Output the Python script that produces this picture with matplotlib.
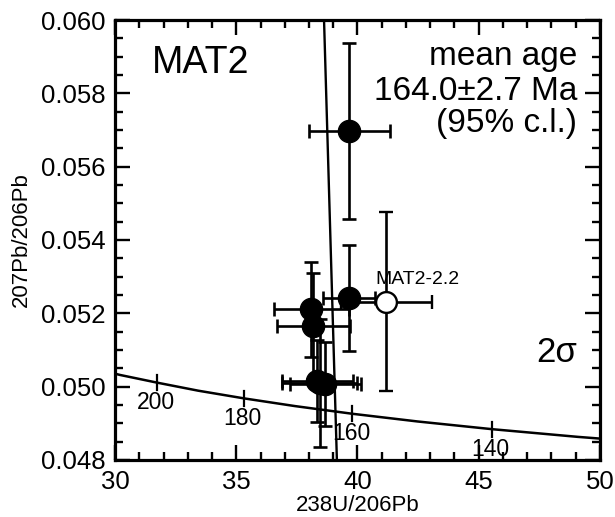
"""
MAT2 - Tera-Wasserburg concordia plot with U-Pb spot analyses.
"""

import matplotlib.pyplot as plt
from matplotlib.ticker import MultipleLocator

plt.rcParams["font.family"] = ["Liberation Sans", "DejaVu Sans"]

# concordia curve points (238U/206Pb, 207Pb/206Pb)
conc_x = [29.91, 30.20, 31.73, 33.43, 35.32, 37.42, 39.79, 42.48, 45.55, 49.09, 50.26]
conc_y = [0.05037, 0.05032, 0.05011, 0.04989, 0.04968, 0.04947, 0.04926, 0.04905, 0.04884, 0.04863, 0.04857]

# age marks on the concordia (Ma)
age_labels = ["200", "180", "160", "140"]
age_x = [31.73, 35.32, 39.79, 45.55]
age_y = [0.05011, 0.04968, 0.04926, 0.04884]

# filled spots: x, y and 2 sigma errors
spot_x = [39.65, 39.65, 38.10, 38.18, 38.35, 38.45, 38.68]
spot_y = [0.05697, 0.05241, 0.05211, 0.05166, 0.05016, 0.05010, 0.05008]
spot_xerr = [1.67, 1.07, 1.55, 1.50, 1.45, 1.55, 1.48]
spot_yerr = [0.00240, 0.00145, 0.00130, 0.00145, 0.00112, 0.00175, 0.00115]

# excluded spot (open circle)
open_x = [41.18]
open_y = [0.05232]
open_xerr = [1.88]
open_yerr = [0.00245]
open_name = "MAT2-2.2"

# mean-age line
line_x = [38.62, 39.15]
line_y = [0.060, 0.048]

fig = plt.figure(figsize=(6.15, 5.17), dpi=100)
ax = fig.add_axes([0.187, 0.1103, 0.7886, 0.851])

ax.plot(conc_x, conc_y, color="black", lw=1.8, zorder=2)
for lab, x, y in zip(age_labels, age_x, age_y):
    ax.plot([x, x], [y - 0.0002, y + 0.0002], color="black", lw=1.6, zorder=2)
    ax.annotate(lab, (x, y), xytext=(-1, -19), textcoords="offset points",
                ha="center", va="baseline", fontsize=16.5)

ax.plot(line_x, line_y, color="black", lw=1.7, zorder=3)

ax.errorbar(spot_x, spot_y, xerr=spot_xerr, yerr=spot_yerr, fmt="o",
            color="black", ms=16, elinewidth=1.9, capsize=5, capthick=1.9,
            zorder=4)
ax.errorbar(open_x, open_y, xerr=open_xerr, yerr=open_yerr, fmt="o",
            color="black", mfc="white", mec="black", mew=1.7, ms=15,
            elinewidth=1.9, capsize=5, capthick=1.9, zorder=4)
ax.text(open_x[0] - 0.45, open_y[0] + 0.00048, open_name, fontsize=14,
        ha="left", va="baseline")

ax.set_xlim(30, 50)
ax.set_ylim(0.048, 0.060)
ax.xaxis.set_major_locator(MultipleLocator(5))
ax.xaxis.set_minor_locator(MultipleLocator(1))
ax.yaxis.set_major_locator(MultipleLocator(0.002))
ax.yaxis.set_minor_locator(MultipleLocator(0.0005))
ax.yaxis.set_major_formatter(plt.FormatStrFormatter("%.3f"))
ax.tick_params(which="both", direction="in", top=True, right=True,
               width=1.7, labelsize=18.5, pad=7)
ax.tick_params(which="major", length=11)
ax.tick_params(which="minor", length=5.5)
for sp in ax.spines.values():
    sp.set_linewidth(2.3)

ax.set_xlabel("238U/206Pb", fontsize=16, labelpad=1)
ax.set_ylabel("207Pb/206Pb", fontsize=16, labelpad=6)

ax.text(0.0757, 0.8795, "MAT2", transform=ax.transAxes, fontsize=27,
        ha="left", va="baseline")
ax.text(0.9526, 0.8977, "mean age", transform=ax.transAxes, fontsize=24,
        ha="right", va="baseline")
ax.text(0.9526, 0.818, "164.0\u00b12.7 Ma", transform=ax.transAxes, fontsize=24,
        ha="right", va="baseline")
ax.text(0.9526, 0.745, "(95% c.l.)", transform=ax.transAxes, fontsize=24,
        ha="right", va="baseline")
ax.text(0.9526, 0.2235, "2\u03c3", transform=ax.transAxes, fontsize=25,
        ha="right", va="baseline")

fig.savefig("out.png", dpi=100)
